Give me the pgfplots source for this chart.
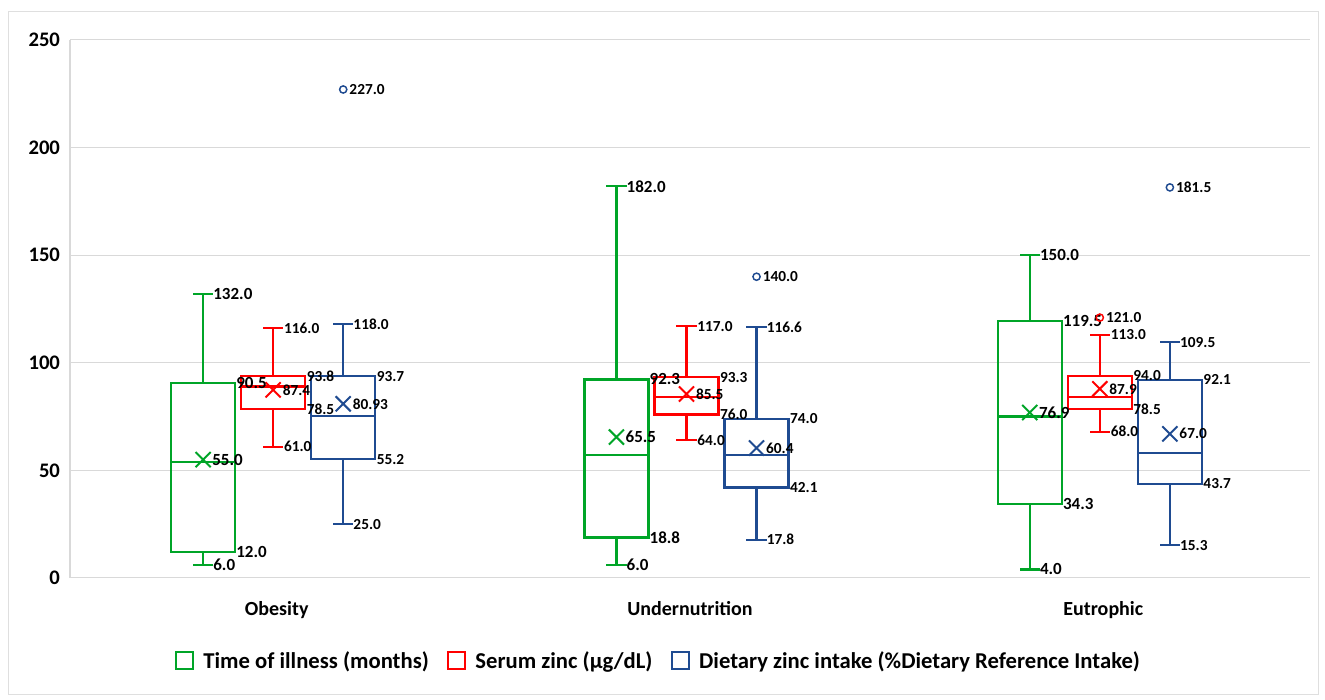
\documentclass[border=0pt]{standalone}
\usepackage{fontspec}
\setmainfont{Carlito}
\usepackage{pgfplots}
\pgfplotsset{compat=1.18}
\definecolor{cg}{RGB}{0,165,40}
\definecolor{cr}{RGB}{255,0,0}
\definecolor{cb}{RGB}{31,75,145}
\newcommand\labG{\fontsize{12.75}{14}\selectfont\bfseries}
\newcommand\labR{\fontsize{11.5}{13}\selectfont\bfseries}
\pgfplotsset{
  lab/.style 2 args={forget plot, only marks, mark=*, mark size=0pt,
    mark options={draw=none, fill=none},
    point meta=explicit symbolic, nodes near coords,
    nodes near coords style={anchor=west, inner sep=0pt, text=black, text opacity=1, font=#2, xshift=#1}},
  bx/.style={forget plot, draw=#1, line width=1.7pt, solid, mark=none, line cap=rect, line join=miter, unbounded coords=jump},
  mn/.style={forget plot, only marks, mark=x, mark size=8pt, mark options={draw=#1, line width=1.5pt, solid}},
  ol/.style={forget plot, only marks, mark=o, mark size=2.7pt, mark options={draw=#1, fill=white, line width=1.1pt, solid}},
}
\begin{document}
\begin{tikzpicture}
\useasboundingbox (0,0) rectangle (993.75pt,525pt);
\fill[white] (0,0) rectangle (993.75pt,525pt);
\draw[gray!25, line width=0.75pt] (6pt,3.75pt) rectangle (988.5pt,516pt);
\begin{axis}[
  at={(52.5pt,91.5pt)}, anchor=south west,
  scale only axis, width=930pt, height=403.5pt,
  xmin=-5, xmax=25, ymin=0, ymax=250,
  ytick={0,50,...,250},
  xtick={0,10,20},
  xticklabels={Obesity,Undernutrition,Eutrophic},
  ymajorgrids, grid style={draw=gray!30, line width=0.75pt},
  axis lines=left, axis line style={draw=gray!30, line width=0.75pt, -},
  major tick length=0pt,
  /pgf/number format/assume math mode=true,
  yticklabel style={font=\fontsize{15.5}{18}\selectfont\bfseries, xshift=-4pt},
  xticklabel style={font=\fontsize{15}{18}\selectfont\bfseries, yshift=-14pt},
  clip=false,
  legend style={at={(0.475,-0.154)}, anchor=center, draw=none, fill=none,
    font=\fontsize{17}{20}\selectfont\bfseries, legend columns=3,
    /tikz/every odd column/.append style={column sep=5pt},
    /tikz/every even column/.append style={column sep=12pt}},
  legend image code/.code={\draw[#1, line width=1.5pt] (0pt,-6.4pt) rectangle (12.5pt,6.4pt);},
]
% ---- Green: Time of illness (box: Q1, Q3, median, whiskers)
\addplot[bx=cg] coordinates {
(-2.555,12) (-1.005,12) (-1.005,90.5) (-2.555,90.5) (-2.555,12) (-2.555,nan)
(-2.555,54) (-1.005,54) (-1.005,nan)
(-1.78,90.5) (-1.78,132) (-1.78,nan)
(-2.0,132) (-1.56,132) (-1.56,nan)
(-1.78,12) (-1.78,6) (-1.78,nan)
(-2.0,6) (-1.56,6)
};
\addplot[bx=cg] coordinates {
(7.445,18.8) (8.995,18.8) (8.995,92.3) (7.445,92.3) (7.445,18.8) (7.445,nan)
(7.445,57) (8.995,57) (8.995,nan)
(8.22,92.3) (8.22,182) (8.22,nan)
(8.0,182) (8.44,182) (8.44,nan)
(8.22,18.8) (8.22,6) (8.22,nan)
(8.0,6) (8.44,6)
};
\addplot[bx=cg] coordinates {
(17.445,34.3) (18.995,34.3) (18.995,119.5) (17.445,119.5) (17.445,34.3) (17.445,nan)
(17.445,75) (18.995,75) (18.995,nan)
(18.22,119.5) (18.22,150) (18.22,nan)
(18.0,150) (18.44,150) (18.44,nan)
(18.22,34.3) (18.22,4) (18.22,nan)
(18.0,4) (18.44,4)
};
% ---- Red: Serum zinc
\addplot[bx=cr] coordinates {
(-0.86,78.5) (0.69,78.5) (0.69,93.8) (-0.86,93.8) (-0.86,78.5) (-0.86,nan)
(-0.86,89) (0.69,89) (0.69,nan)
(-0.085,93.8) (-0.085,116) (-0.085,nan)
(-0.305,116) (0.135,116) (0.135,nan)
(-0.085,78.5) (-0.085,61) (-0.085,nan)
(-0.305,61) (0.135,61)
};
\addplot[bx=cr] coordinates {
(9.14,76) (10.69,76) (10.69,93.3) (9.14,93.3) (9.14,76) (9.14,nan)
(9.14,84) (10.69,84) (10.69,nan)
(9.915,93.3) (9.915,117) (9.915,nan)
(9.695,117) (10.135,117) (10.135,nan)
(9.915,76) (9.915,64) (9.915,nan)
(9.695,64) (10.135,64)
};
\addplot[bx=cr] coordinates {
(19.14,78.5) (20.69,78.5) (20.69,94) (19.14,94) (19.14,78.5) (19.14,nan)
(19.14,84) (20.69,84) (20.69,nan)
(19.915,94) (19.915,113) (19.915,nan)
(19.695,113) (20.135,113) (20.135,nan)
(19.915,78.5) (19.915,68) (19.915,nan)
(19.695,68) (20.135,68)
};
% ---- Blue: Dietary zinc intake
\addplot[bx=cb] coordinates {
(0.835,55.2) (2.385,55.2) (2.385,93.7) (0.835,93.7) (0.835,55.2) (0.835,nan)
(0.835,75.3) (2.385,75.3) (2.385,nan)
(1.61,93.7) (1.61,118) (1.61,nan)
(1.39,118) (1.83,118) (1.83,nan)
(1.61,55.2) (1.61,25) (1.61,nan)
(1.39,25) (1.83,25)
};
\addplot[bx=cb] coordinates {
(10.835,42.1) (12.385,42.1) (12.385,74) (10.835,74) (10.835,42.1) (10.835,nan)
(10.835,57) (12.385,57) (12.385,nan)
(11.61,74) (11.61,116.6) (11.61,nan)
(11.39,116.6) (11.83,116.6) (11.83,nan)
(11.61,42.1) (11.61,17.8) (11.61,nan)
(11.39,17.8) (11.83,17.8)
};
\addplot[bx=cb] coordinates {
(20.835,43.7) (22.385,43.7) (22.385,92.1) (20.835,92.1) (20.835,43.7) (20.835,nan)
(20.835,58.1) (22.385,58.1) (22.385,nan)
(21.61,92.1) (21.61,109.5) (21.61,nan)
(21.39,109.5) (21.83,109.5) (21.83,nan)
(21.61,43.7) (21.61,15.3) (21.61,nan)
(21.39,15.3) (21.83,15.3)
};
% ---- means
\addplot[mn=cg] coordinates {(-1.78,55) (8.22,65.5) (18.22,76.9)};
\addplot[mn=cr] coordinates {(-0.085,87.4) (9.915,85.5) (19.915,87.9)};
\addplot[mn=cb] coordinates {(1.61,80.93) (11.61,60.4) (21.61,67.0)};
% ---- labels green
\addplot[lab={7.5pt}{\labG}] table[meta=lab] {
x y lab
-1.78 132 132.0
-1.78 6 6.0
8.22 182 182.0
8.22 6 6.0
18.22 150 150.0
18.22 4 4.0
};
\addplot[lab={24.75pt}{\labG}] table[meta=lab] {
x y lab
-1.78 90.5 90.5
-1.78 12 12.0
8.22 92.3 92.3
8.22 18.8 18.8
18.22 119.5 119.5
18.22 34.3 34.3
};
\addplot[lab={6.75pt}{\labG}] table[meta=lab] {
x y lab
-1.78 55 55.0
8.22 65.5 65.5
18.22 76.9 76.9
};
% ---- labels red
\addplot[lab={8pt}{\labR}] table[meta=lab] {
x y lab
-0.085 116 116.0
-0.085 61 61.0
9.915 117 117.0
9.915 64 64.0
19.915 113 113.0
19.915 68 68.0
};
\addplot[lab={25pt}{\labR}] table[meta=lab] {
x y lab
-0.085 93.8 93.8
-0.085 78.5 78.5
9.915 93.3 93.3
9.915 76 76.0
19.915 94 94.0
19.915 78.5 78.5
};
\addplot[lab={7pt}{\labR}] table[meta=lab] {
x y lab
-0.085 87.4 87.4
9.915 85.5 85.5
19.915 87.9 87.9
};
\addplot[lab={4.5pt}{\labR}] table[meta=lab] {
x y lab
19.915 121 121.0
};
% ---- labels blue
\addplot[lab={7.5pt}{\labR}] table[meta=lab] {
x y lab
1.61 118 118.0
1.61 25 25.0
11.61 116.6 116.6
11.61 17.8 17.8
21.61 109.5 109.5
21.61 15.3 15.3
};
\addplot[lab={25pt}{\labR}] table[meta=lab] {
x y lab
1.61 93.7 93.7
1.61 55.2 55.2
11.61 74 74.0
11.61 42.1 42.1
21.61 92.1 92.1
21.61 43.7 43.7
};
\addplot[lab={7pt}{\labR}] table[meta=lab] {
x y lab
1.61 80.93 80.93
11.61 60.4 60.4
21.61 67.0 67.0
};
\addplot[lab={4.5pt}{\labR}] table[meta=lab] {
x y lab
1.61 227 227.0
11.61 140 140.0
21.61 181.5 181.5
};
% ---- outliers (drawn last, on top)
\addplot[ol=cr] coordinates {(19.915,121)};
\addplot[ol=cb] coordinates {(1.61,227) (11.61,140) (21.61,181.5)};
% ---- legend
\addlegendimage{draw=cg}
\addlegendentry{Time of illness (months)}
\addlegendimage{draw=cr}
\addlegendentry{Serum zinc (µg/dL)}
\addlegendimage{draw=cb}
\addlegendentry{Dietary zinc intake (\%Dietary Reference Intake)}
\end{axis}
\end{tikzpicture}
\end{document}
